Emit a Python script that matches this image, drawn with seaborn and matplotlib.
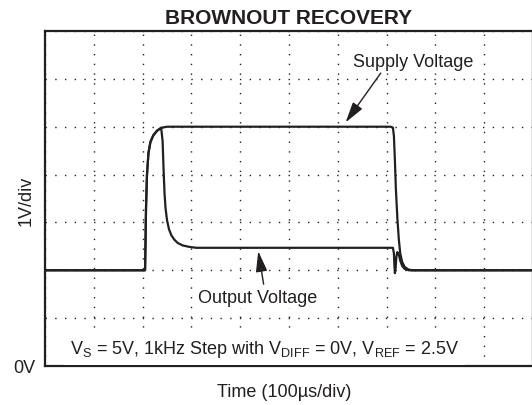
import matplotlib
matplotlib.use("Agg")
import matplotlib.pyplot as plt
import seaborn as sns
import pandas as pd

# time in divisions (100us/div), voltage in divisions (1V/div)
supply_t = [0.0, 2.05, 2.06, 2.07, 2.09, 2.12, 2.16, 2.22, 2.30, 2.40, 2.50,
            7.08, 7.13, 7.15, 7.17, 7.19, 7.22, 7.25, 7.28, 7.32, 7.37, 7.44, 7.52, 10.0]
supply_v = [2.0, 2.0, 2.6, 3.3, 4.0, 4.45, 4.68, 4.82, 4.92, 4.98, 5.0,
            5.0, 4.98, 4.8, 4.3, 3.7, 3.1, 2.65, 2.35, 2.17, 2.07, 2.02, 2.0, 2.0]

output_t = [0.0, 2.05, 2.06, 2.07, 2.09, 2.12, 2.16, 2.22, 2.30, 2.38, 2.41,
            2.43, 2.45, 2.47, 2.50, 2.54, 2.59, 2.65, 2.72, 2.82, 2.95, 3.10, 3.25,
            7.13, 7.15, 7.16, 7.17, 7.185, 7.20, 7.22, 7.25, 7.28, 7.32, 7.37, 7.45, 7.55, 10.0]
output_v = [2.0, 2.0, 2.6, 3.3, 4.0, 4.45, 4.68, 4.82, 4.92, 4.98, 4.7,
            4.1, 3.6, 3.3, 3.05, 2.86, 2.73, 2.64, 2.57, 2.52, 2.49, 2.47, 2.47,
            2.47, 2.35, 2.1, 1.94, 2.05, 2.28, 2.38, 2.33, 2.2, 2.09, 2.03, 2.0, 2.0, 2.0]

x_ticks = list(range(11))
y_ticks = list(range(8))
y_tick_labels = ["0V"] + [""] * 7

df = pd.concat([
    pd.DataFrame({"t": supply_t, "v": supply_v, "trace": "Supply Voltage"}),
    pd.DataFrame({"t": output_t, "v": output_v, "trace": "Output Voltage"}),
])

sns.set_style("white")
plt.rcParams["font.family"] = ["Liberation Sans", "DejaVu Sans"]
plt.rcParams["mathtext.fontset"] = "custom"
plt.rcParams["mathtext.rm"] = "Liberation Sans"

ink = "#231f20"
fig = plt.figure(figsize=(5.32, 4.06), dpi=100)
ax = fig.add_axes([45 / 532, 1 - 367 / 406, 488 / 532, 335 / 406])

sns.lineplot(data=df, x="t", y="v", units="trace", estimator=None, sort=False,
             color=ink, linewidth=1.6, legend=False, ax=ax, zorder=3)

ax.set_xlim(0, 10)
ax.set_ylim(0, 7)
ax.set_xticks(x_ticks)
ax.set_xticklabels([""] * len(x_ticks))
ax.set_yticks(y_ticks)
ax.set_yticklabels(y_tick_labels, fontsize=13, color=ink)
ax.tick_params(length=0, pad=7)
ax.grid(True, color=ink, linestyle=(0, (1, 6)), linewidth=1.0)
for s in ax.spines.values():
    s.set_linewidth(1.6)
    s.set_color(ink)

ax.set_title("BROWNOUT RECOVERY", fontsize=15, fontweight="bold", color=ink, pad=6)
ax.set_xlabel("Time (100\u00b5s/div)", fontsize=13, color=ink)
ax.set_ylabel("1V/div", fontsize=13, color=ink)
ax.xaxis.set_label_coords(0.49, -0.05)
ax.yaxis.set_label_coords(-0.022, 0.495)

box = dict(facecolor="white", edgecolor="none", pad=1.5)
ax.text(7.54, 6.27, "Supply Voltage", fontsize=13, color=ink, ha="center", va="baseline",
        bbox=box, zorder=4)
ax.annotate("", xy=(6.16, 5.09), xytext=(6.88, 6.12),
            arrowprops=dict(arrowstyle="-|>,head_length=0.9,head_width=0.25",
                            color=ink, lw=1.0, mutation_scale=14, shrinkA=0, shrinkB=0))
ax.text(4.35, 1.34, "Output Voltage", fontsize=13, color=ink, ha="center", va="baseline",
        bbox=box, zorder=4)
ax.annotate("", xy=(4.37, 2.40), xytext=(4.48, 1.71),
            arrowprops=dict(arrowstyle="-|>,head_length=0.9,head_width=0.25",
                            color=ink, lw=1.0, mutation_scale=14, shrinkA=0, shrinkB=0))
ax.text(4.5, 0.27,
        r"V$_\mathregular{S}$ = 5V, 1kHz Step with V$_\mathregular{DIFF}$ = 0V, V$_\mathregular{REF}$ = 2.5V",
        fontsize=13, color=ink, ha="center", va="baseline",
        bbox=dict(facecolor="white", edgecolor="none", pad=4), zorder=4)

fig.savefig("out.png", dpi=100)
